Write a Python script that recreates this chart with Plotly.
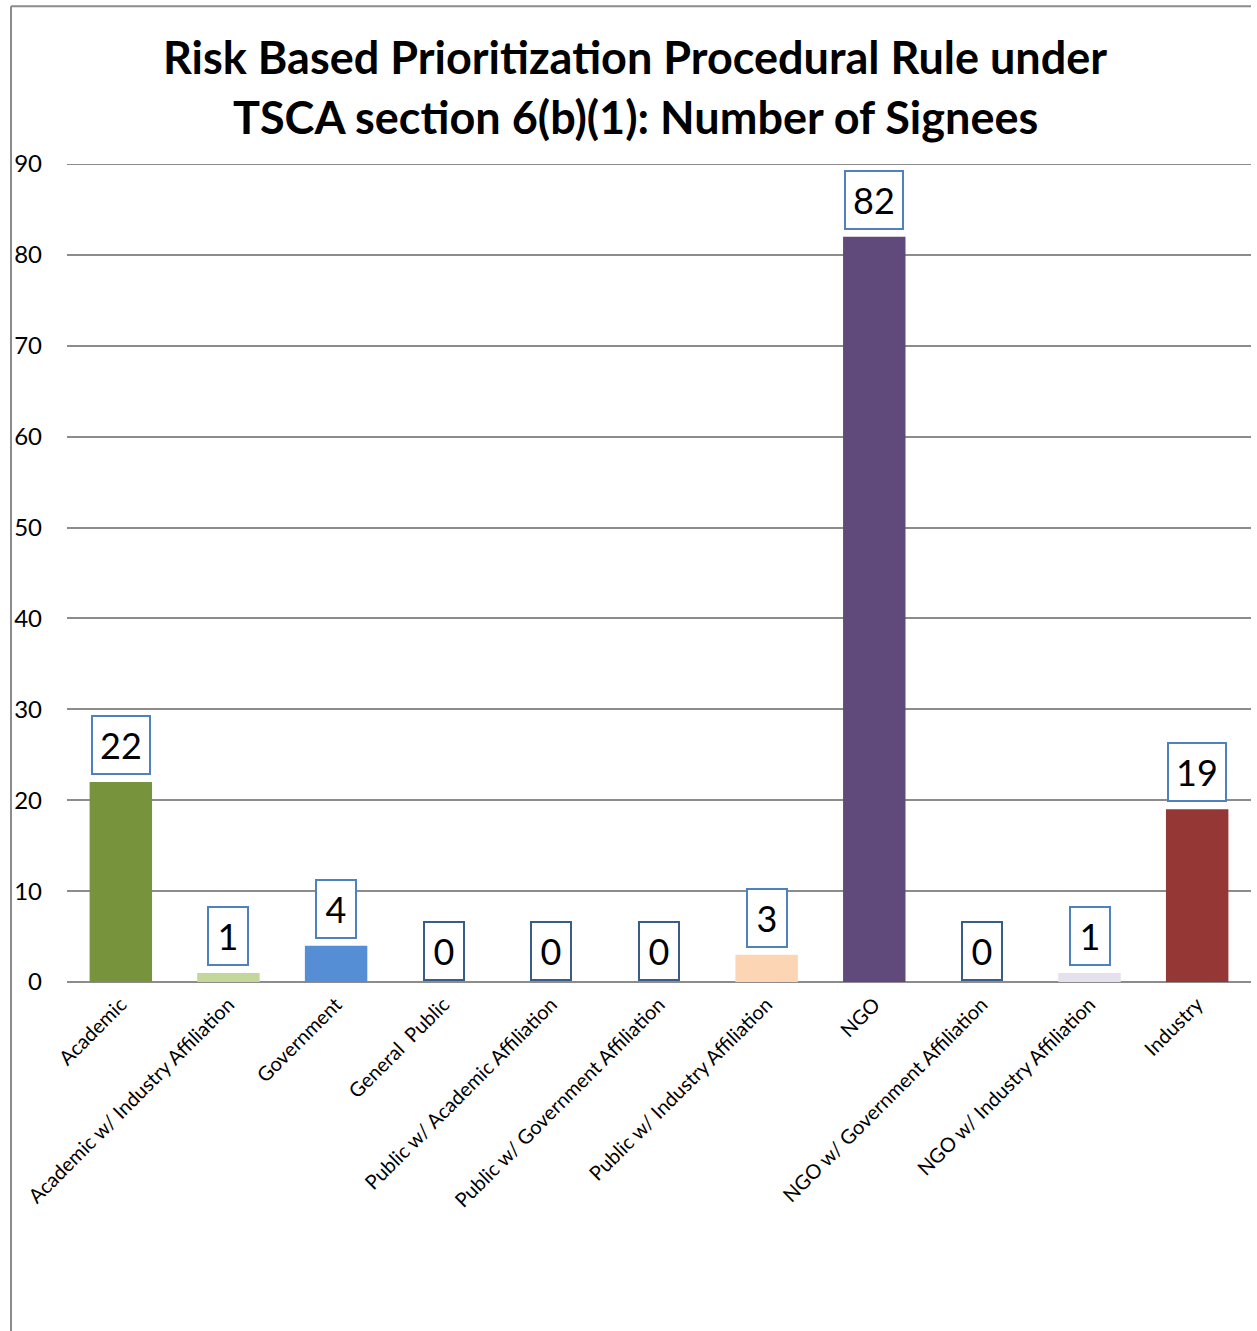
import plotly.graph_objects as go

# Signee counts by affiliation group
categories = [
    "Academic",
    "Academic w/ Industry Affiliation",
    "Government",
    "General  Public",
    "Public w/ Academic Affiliation",
    "Public w/ Government Affiliation",
    "Public w/ Industry Affiliation",
    "NGO",
    "NGO w/ Government Affiliation",
    "NGO w/ Industry Affiliation",
    "Industry",
]
signees = [22, 1, 4, 0, 0, 0, 3, 82, 0, 1, 19]
bar_colors = [
    "#77933c", "#c3d69b", "#558ed5", "#b9cde5", "#b9cde5", "#b9cde5",
    "#fcd5b5", "#604a7b", "#e6e0ec", "#e6e0ec", "#953735",
]
y_ticks = [0, 10, 20, 30, 40, 50, 60, 70, 80, 90]

title_lines = [
    "Risk Based Prioritization Procedural Rule under",
    "TSCA section 6(b)(1): Number of Signees",
]

FONT = "Lato, Open Sans, sans-serif"
GRID = "#8c8c8c"

fig = go.Figure()
fig.add_trace(go.Bar(
    x=categories,
    y=signees,
    marker=dict(color=bar_colors, line=dict(width=0)),
    hoverinfo="x+y",
))

# Value call-outs in boxed labels above each bar
for cat, val in zip(categories, signees):
    label = str(val)
    fig.add_annotation(
        x=cat, y=val, xref="x", yref="y",
        text=label,
        showarrow=False,
        yanchor="bottom",
        yshift=7 if val > 0 else 1,
        font=dict(family=FONT, size=36, color="#000000"),
        bgcolor="#ffffff",
        bordercolor="#385d8a" if val == 0 else "#4f81bd",
        borderwidth=2,
        borderpad=0,
        width=18 * len(label) + 20,
        height=56,
    )

# Two-line bold title
for line, ypos in zip(title_lines, [1.131, 1.058]):
    fig.add_annotation(
        x=0.48, y=ypos, xref="paper", yref="paper",
        text="<b>" + line + "</b>",
        showarrow=False, xanchor="center", yanchor="middle",
        font=dict(family=FONT, size=45, color="#000000"),
    )

# Top gridline at the axis maximum
fig.add_shape(type="line", xref="paper", yref="y",
              x0=0, x1=1, y0=y_ticks[-1], y1=y_ticks[-1],
              line=dict(color=GRID, width=2), layer="below")

# Chart frame (top and left edges)
fig.add_shape(type="line", xref="paper", yref="paper",
              x0=-0.0473, x1=1.0, y0=1.193, y1=1.193,
              line=dict(color=GRID, width=2))
fig.add_shape(type="line", xref="paper", yref="paper",
              x0=-0.0473, x1=-0.0473, y0=1.193, y1=-0.43,
              line=dict(color=GRID, width=2))

fig.update_layout(
    width=1257, height=1331,
    margin=dict(l=67, r=6, t=164, b=349),
    paper_bgcolor="#ffffff",
    plot_bgcolor="#ffffff",
    showlegend=False,
    bargap=0.42,
    font=dict(family=FONT, color="#000000"),
)

fig.update_xaxes(
    tickangle=-45,
    tickfont=dict(size=20, color="#000000"),
    showgrid=False,
    showline=False,
    ticks="",
    ticklabelstandoff=6,
)
fig.update_yaxes(
    range=[0, 90],
    tickvals=y_ticks,
    tickfont=dict(size=24, color="#000000"),
    showgrid=True,
    gridcolor=GRID,
    gridwidth=2,
    zeroline=True,
    zerolinecolor=GRID,
    zerolinewidth=2,
    showline=False,
    ticks="",
    ticklabelstandoff=24,
)

fig.write_html("out.html")
